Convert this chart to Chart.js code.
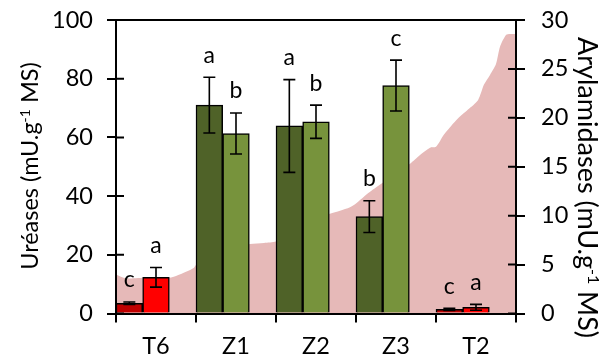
<!DOCTYPE html>
<html>
<head>
<meta charset="utf-8">
<script src="https://cdn.jsdelivr.net/npm/chart.js@4.4.1/dist/chart.umd.min.js"></script>
<style>
  html, body { margin: 0; padding: 0; background: #fff; }
  #wrap { position: relative; width: 604px; height: 358px; }
  #wrap canvas { position: absolute; left: 0; top: 0; }
</style>
</head>
<body>
<div id="wrap">
  <canvas id="profile" width="604" height="358"></canvas>
  <canvas id="chart" width="604" height="358"></canvas>
</div>
<script>
// data
const categories = ["T6", "Z1", "Z2", "Z3", "T2"];

// left axis (Uréases)
const ureases = [3.5, 71.0, 63.9, 33.0, 1.4];
const ureasesErr = [0.4, 9.5, 15.8, 5.4, 0.4];
const ureasesLetters = ["c", "a", "a", "b", "c"];

// right axis (Arylamidases)
const arylamidases = [3.7, 18.4, 19.6, 23.3, 0.63];
const arylamidasesErr = [1.0, 2.1, 1.7, 2.6, 0.3];
const arylamidasesLetters = ["a", "b", "b", "c", "a"];

// pink background profile (x = % of plot width, y = left axis units)
const profileX = [0, 2.5, 7.5, 12.5, 15, 17.5, 19.5, 20, 25, 30, 33, 33.5, 37, 40, 45, 50, 53, 53.5, 56, 58.5, 60, 63, 66.5, 70, 73.5, 76, 78.5, 80, 82, 85, 88, 90.5, 92, 93.5, 95, 96, 97.5, 98.5, 100];
const profileY = [13.3, 12.0, 12.2, 12.0, 12.8, 14.2, 15.6, 16.5, 19, 21.5, 23.5, 23.7, 24.0, 24.5, 27.5, 31.5, 33.8, 34.0, 35.0, 36.2, 37.5, 41.0, 44.4, 47.5, 51.0, 54.0, 56.5, 56.8, 61.0, 65.8, 69.5, 72.7, 78, 81.3, 85, 90.9, 94.9, 95.2, 95.2];

const darkColors = ["#C00000", "#4F6228", "#4F6228", "#4F6228", "#C00000"];
const lightColors = ["#FF0000", "#77933C", "#77933C", "#77933C", "#FF0000"];

const FONT = "Lato";
const FS = 23.5;

// plot box: left 116, right 516, top 20, bottom 313.5
const PAD = { top: 20, left: 116, right: 88, bottom: 44.5 };

// background profile: its own chart under the bars (a line dataset on a
// second x axis messes up the bar grouping)
new Chart(document.getElementById("profile").getContext("2d"), {
  type: "line",
  data: {
    datasets: [{
      data: profileX.map((x, i) => ({ x: x, y: profileY[i] })),
      fill: "origin",
      backgroundColor: "#E6B9B8",
      borderWidth: 0,
      pointRadius: 0,
      tension: 0.25
    }]
  },
  options: {
    responsive: false,
    animation: false,
    events: [],
    layout: { padding: PAD },
    plugins: { legend: { display: false }, tooltip: { enabled: false } },
    scales: {
      x: { type: "linear", display: false, min: 0, max: 100 },
      y: { display: false, min: 0, max: 100 }
    }
  }
});

// error bars + letters
const errorBars = {
  id: "errorBars",
  afterDatasetsDraw(chart) {
    const ctx = chart.ctx;
    const sets = [
      { i: 0, vals: ureases, err: ureasesErr, letters: ureasesLetters },
      { i: 1, vals: arylamidases, err: arylamidasesErr, letters: arylamidasesLetters }
    ];
    ctx.save();
    ctx.strokeStyle = "#000";
    ctx.lineWidth = 1.6;
    ctx.fillStyle = "#000";
    ctx.font = "23px " + FONT;
    ctx.textAlign = "center";
    ctx.textBaseline = "middle";
    sets.forEach(s => {
      const meta = chart.getDatasetMeta(s.i);
      const scale = chart.scales[meta.yAxisID];
      meta.data.forEach((bar, k) => {
        const x = bar.x;
        const yT = scale.getPixelForValue(s.vals[k] + s.err[k]);
        const yB = scale.getPixelForValue(s.vals[k] - s.err[k]);
        ctx.beginPath();
        ctx.moveTo(x, yT); ctx.lineTo(x, yB);
        ctx.moveTo(x - 6, yT); ctx.lineTo(x + 6, yT);
        ctx.moveTo(x - 6, yB); ctx.lineTo(x + 6, yB);
        ctx.stroke();
        ctx.fillText(s.letters[k], x, yT - 22);
      });
    });
    ctx.restore();
  }
};

// top frame line, inward tick halves and axis titles
const frame = {
  id: "frame",
  afterDraw(chart) {
    const ctx = chart.ctx;
    const a = chart.chartArea;
    ctx.save();
    ctx.strokeStyle = "#000";
    ctx.lineWidth = 2;
    ctx.beginPath();
    ctx.moveTo(a.left - 1, a.top); ctx.lineTo(a.right + 1, a.top);
    ["y", "y1"].forEach(id => {
      const sc = chart.scales[id];
      sc.ticks.forEach(t => {
        const py = sc.getPixelForValue(t.value);
        if (id === "y") { ctx.moveTo(a.left, py); ctx.lineTo(a.left + 8, py); }
        else { ctx.moveTo(a.right, py); ctx.lineTo(a.right - 8, py); }
      });
    });
    ctx.stroke();

    // titles with superscript, baseline at (bx, cy)
    const drawTitle = (parts, bx, cy, rot, fs) => {
      const sup = Math.round(fs * 0.6);
      ctx.save();
      ctx.translate(bx, cy);
      ctx.rotate(rot);
      ctx.fillStyle = "#000";
      ctx.textBaseline = "alphabetic";
      ctx.textAlign = "left";
      let total = 0;
      parts.forEach(p => {
        ctx.font = (p.sup ? sup : fs) + "px " + FONT;
        total += ctx.measureText(p.t).width;
      });
      let x = -total / 2;
      parts.forEach(p => {
        ctx.font = (p.sup ? sup : fs) + "px " + FONT;
        ctx.fillText(p.t, x, p.sup ? -fs * 0.36 : 0);
        x += ctx.measureText(p.t).width;
      });
      ctx.restore();
    };
    drawTitle([{ t: "Uréases (mU.g" }, { t: "-1", sup: true }, { t: " MS)" }], 38, 166, -Math.PI / 2, 23.5);
    drawTitle([{ t: "Arylamidases (mU.g" }, { t: "-1", sup: true }, { t: " MS)" }], 578, 187.5, Math.PI / 2, 27);
    ctx.restore();
  }
};

// keep the plot box fixed whatever the label sizes
const fixY = w => s => { s.width = w; s.paddingTop = 0; s.paddingBottom = 0; };

const ctx = document.getElementById("chart").getContext("2d");
new Chart(ctx, {
  type: "bar",
  data: {
    labels: categories,
    datasets: [
      {
        label: "Uréases",
        data: ureases,
        yAxisID: "y",
        backgroundColor: darkColors,
        borderColor: "#000",
        borderWidth: 1.5
      },
      {
        label: "Arylamidases",
        data: arylamidases,
        yAxisID: "y1",
        backgroundColor: lightColors,
        borderColor: "#000",
        borderWidth: 1.5
      },
      {
        // empty third slot, as in the original
        label: "",
        data: categories.map(() => 0),
        yAxisID: "y",
        backgroundColor: "rgba(0,0,0,0)",
        borderWidth: 0
      }
    ]
  },
  options: {
    responsive: false,
    animation: false,
    events: [],
    layout: { padding: { top: PAD.top, left: 0, right: 0, bottom: 0 } },
    plugins: { legend: { display: false }, tooltip: { enabled: false } },
    datasets: { bar: { categoryPercentage: 1, barPercentage: 1 } },
    scales: {
      x: {
        grid: { drawOnChartArea: false, color: "#000", lineWidth: 2, tickLength: 9, offset: true },
        border: { color: "#000", width: 2 },
        ticks: { color: "#000", font: { family: FONT, size: FS }, padding: 10 },
        afterFit: s => { s.height = PAD.bottom; s.paddingLeft = 0; s.paddingRight = 0; }
      },
      y: {
        position: "left",
        min: 0, max: 100,
        ticks: { stepSize: 20, color: "#000", font: { family: FONT, size: FS }, padding: 14 },
        grid: { drawOnChartArea: false, color: "#000", lineWidth: 2, tickLength: 9 },
        border: { color: "#000", width: 2 },
        afterFit: fixY(PAD.left)
      },
      y1: {
        position: "right",
        min: 0, max: 30,
        ticks: { stepSize: 5, color: "#000", font: { family: FONT, size: FS }, padding: 16 },
        grid: { drawOnChartArea: false, color: "#000", lineWidth: 2, tickLength: 9 },
        border: { color: "#000", width: 2 },
        afterFit: fixY(PAD.right)
      }
    }
  },
  plugins: [errorBars, frame]
});
</script>
</body>
</html>
